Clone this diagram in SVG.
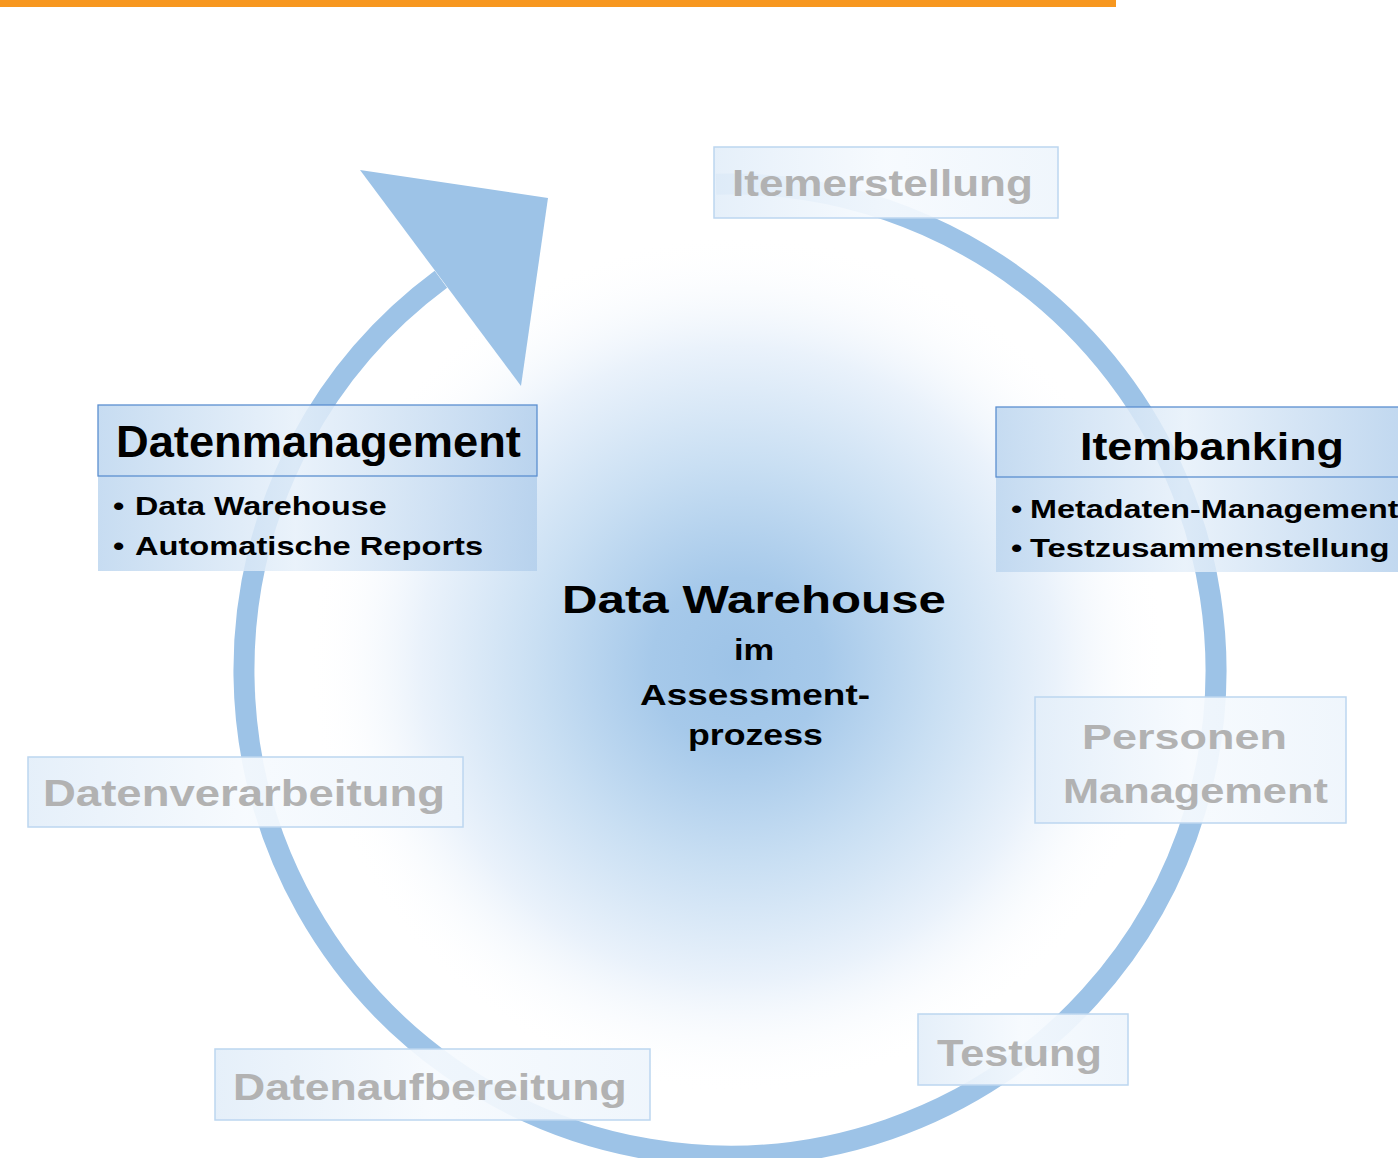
<svg xmlns="http://www.w3.org/2000/svg" width="1398" height="1158" viewBox="0 0 1398 1158">
  <defs>
    <radialGradient id="glow" cx="738" cy="664" r="430" gradientUnits="userSpaceOnUse">
      <stop offset="0" stop-color="#9dc3e7"/>
      <stop offset="0.2" stop-color="#a6c9ea"/>
      <stop offset="0.47" stop-color="#c9dff3"/>
      <stop offset="0.74" stop-color="#eaf2fb"/>
      <stop offset="1" stop-color="#ffffff" stop-opacity="0"/>
    </radialGradient>
    <linearGradient id="blueBox" x1="0" y1="0" x2="1" y2="0">
      <stop offset="0" stop-color="#bdd6ef"/>
      <stop offset="0.45" stop-color="#e6f0fa"/>
      <stop offset="1" stop-color="#b3cfec"/>
    </linearGradient>
    <linearGradient id="lightBox" x1="0" y1="0" x2="1" y2="0">
      <stop offset="0" stop-color="#e3eef9"/>
      <stop offset="0.5" stop-color="#f6fafe"/>
      <stop offset="1" stop-color="#eef5fc"/>
    </linearGradient>
    <style>
      .ring { fill: none; stroke: #9dc3e7; stroke-width: 21; }
      .arrowhead { fill: #9dc3e7; }
      .hdr { fill: url(#blueBox); fill-opacity: 0.85; stroke: #5b8fd0; stroke-width: 1.3; }
      .body { fill: url(#blueBox); fill-opacity: 0.85; }
      .lbox { fill: url(#lightBox); fill-opacity: 0.92; stroke: #bcd6f0; stroke-width: 1.5; }
      .t { font-family: "Liberation Sans", Arial, sans-serif; font-weight: bold; }
      .dark { fill: #000000; }
      .gray { fill: #b2b2b2; }
    </style>
  </defs>

  <rect x="0" y="0" width="1398" height="1158" fill="#ffffff"/>
  <rect x="0" y="0" width="1116" height="7" fill="#f7971f"/>

  <circle cx="738" cy="664" r="430" fill="url(#glow)"/>

  <g id="connectors">
    <path class="ring" d="M 716 184.2 A 486 486 0 1 1 440.9 279.3"/>
    <polygon class="arrowhead" points="360,170 548,198 521,386"/>
  </g>

  <g id="center">
    <text class="t dark" font-size="39" transform="translate(562,613) scale(1.263,1)">Data Warehouse</text>
    <text class="t dark" font-size="30" transform="translate(734,660) scale(1.15,1)">im</text>
    <text class="t dark" font-size="30" transform="translate(640,705) scale(1.232,1)">Assessment-</text>
    <text class="t dark" font-size="30" transform="translate(688,745) scale(1.19,1)">prozess</text>
  </g>

  <g id="itemerstellung">
    <rect class="lbox" x="714" y="147" width="344" height="71"/>
    <text class="t gray" font-size="36" transform="translate(732,196) scale(1.223,1)">Itemerstellung</text>
  </g>

  <g id="datenmanagement">
    <rect class="body" x="98" y="476" width="439" height="95"/>
    <rect class="hdr" x="98" y="405" width="439" height="71"/>
    <text class="t dark" font-size="45" transform="translate(116,457) scale(1.006,1)">Datenmanagement</text>
    <text class="t dark" font-size="26" transform="translate(113,515) scale(1.24,1)">•</text>
    <text class="t dark" font-size="26" transform="translate(135,515) scale(1.242,1)">Data Warehouse</text>
    <text class="t dark" font-size="26" transform="translate(113,555) scale(1.24,1)">•</text>
    <text class="t dark" font-size="26" transform="translate(135,555) scale(1.255,1)">Automatische Reports</text>
  </g>

  <g id="itembanking">
    <rect class="body" x="996" y="477" width="420" height="95"/>
    <rect class="hdr" x="996" y="407" width="420" height="70"/>
    <text class="t dark" font-size="39" transform="translate(1080,460) scale(1.149,1)">Itembanking</text>
    <text class="t dark" font-size="26" transform="translate(1011,518) scale(1.24,1)">•</text>
    <text class="t dark" font-size="26" transform="translate(1030,518) scale(1.245,1)">Metadaten-Management</text>
    <text class="t dark" font-size="26" transform="translate(1011,557) scale(1.24,1)">•</text>
    <text class="t dark" font-size="26" transform="translate(1030,557) scale(1.259,1)">Testzusammenstellung</text>
  </g>

  <g id="personen-management">
    <rect class="lbox" x="1035" y="697" width="311" height="126"/>
    <text class="t gray" font-size="36" transform="translate(1082,749) scale(1.249,1)">Personen</text>
    <text class="t gray" font-size="36" transform="translate(1063,803) scale(1.204,1)">Management</text>
  </g>

  <g id="datenverarbeitung">
    <rect class="lbox" x="28" y="757" width="435" height="70"/>
    <text class="t gray" font-size="37" transform="translate(43,806) scale(1.23,1)">Datenverarbeitung</text>
  </g>

  <g id="datenaufbereitung">
    <rect class="lbox" x="215" y="1049" width="435" height="71"/>
    <text class="t gray" font-size="37" transform="translate(233,1100) scale(1.205,1)">Datenaufbereitung</text>
  </g>

  <g id="testung">
    <rect class="lbox" x="918" y="1014" width="210" height="71"/>
    <text class="t gray" font-size="37" transform="translate(937,1066) scale(1.168,1)">Testung</text>
  </g>
</svg>
